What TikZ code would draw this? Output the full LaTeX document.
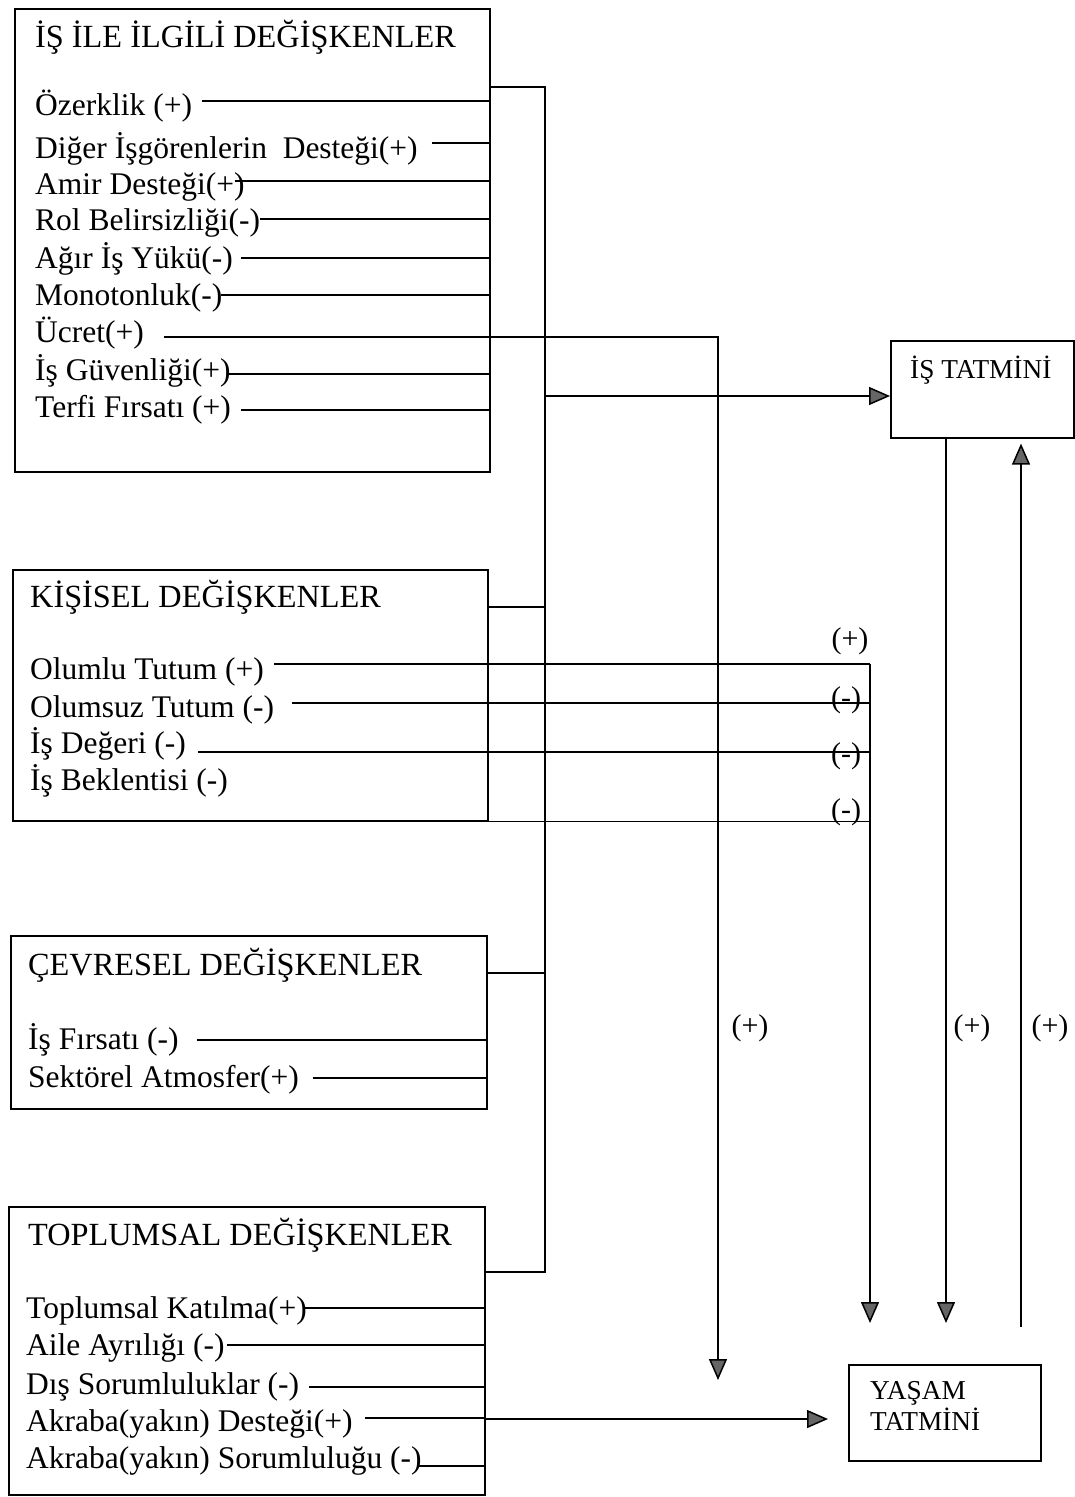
\documentclass[tikz,border=0pt]{standalone}
\usepackage{fontspec}
\setmainfont{Liberation Serif}
\usetikzlibrary{arrows.meta}
\begin{document}
\begin{tikzpicture}[x=1pt,y=-1pt,
  box/.style={draw, line width=1.6pt, anchor=north west, inner sep=0pt},
  txt/.style={anchor=base west, inner sep=0pt, font=\fontsize{31.5}{37}\selectfont},
  htxt/.style={anchor=base west, inner sep=0pt, font=\fontsize{32.3}{38}\selectfont},
  stxt/.style={anchor=base west, inner sep=0pt, font=\fontsize{27.3}{32}\selectfont},
  lbl/.style={inner sep=0pt, font=\fontsize{30}{36}\selectfont},
  con/.style={line width=1.5pt},
  arr/.style={con, -{Triangle[length=21pt,width=18pt,fill=black!60]}},
]
\useasboundingbox (0,0) rectangle (1075,1497);

% boxes
\node[box, minimum width=475pt, minimum height=463pt] (b1) at (14,8) {};
\node[box, minimum width=475pt, minimum height=251pt] (b2) at (12,569) {};
\node[box, minimum width=476pt, minimum height=173pt] (b3) at (10,935) {};
\node[box, minimum width=476pt, minimum height=288pt] (b4) at (8,1206) {};
\node[box, minimum width=183pt, minimum height=97pt] (tat) at (890,340) {};
\node[box, minimum width=192pt, minimum height=96pt] (yas) at (848,1364) {};

% titles
\node[htxt] (h1) at (35,47) {İŞ İLE İLGİLİ DEĞİŞKENLER};
\node[htxt] (h2) at (30,607) {KİŞİSEL DEĞİŞKENLER};
\node[htxt] (h3) at (28,975) {ÇEVRESEL DEĞİŞKENLER};
\node[htxt] (h4) at (28,1245) {TOPLUMSAL DEĞİŞKENLER};
\node[stxt] (ht) at (910,378) {İŞ TATMİNİ};
\node[stxt] (hy1) at (870,1399) {YAŞAM};
\node[stxt] (hy2) at (870,1430) {TATMİNİ};

% box 1 items
\foreach \nm/\tx/\yb/\ly/\g in {
  o1/Özerklik (+)/115/101/10,
  o2/Diğer İşgörenlerin~~Desteği(+)/158/143/14,
  o3/Amir Desteği(+)/194/181/-10,
  o4/Rol Belirsizliği(-)/230/219/0,
  o5/Ağır İş Yükü(-)/268/258/8,
  o6/Monotonluk(-)/305/295/-2,
  o8/İş Güvenliği(+)/380/374/-2,
  o9/Terfi Fırsatı (+)/417/410/10}{
  \node[txt] (\nm) at (35,\yb) {\tx};
  \draw[con] (\nm.east |- 0,\ly) ++(\g,0) -- (b1.east |- 0,\ly);
}
\node[txt] (o7) at (35,342) {Ücret(+)};

% box 2 items
\node[txt] (k1) at (30,679) {Olumlu Tutum (+)};
\node[txt] (k2) at (30,717) {Olumsuz Tutum (-)};
\node[txt] (k3) at (30,753) {İş Değeri (-)};
\node[txt] (k4) at (30,790) {İş Beklentisi (-)};

% box 3 items
\node[txt] (c1) at (28,1049) {İş Fırsatı (-)};
\node[txt] (c2) at (28,1087) {Sektörel Atmosfer(+)};
\draw[con] (c1.east |- 0,1040) ++(18,0) -- (b3.east |- 0,1040);
\draw[con] (c2.east |- 0,1078) ++(14,0) -- (b3.east |- 0,1078);

% box 4 items
\foreach \nm/\tx/\yb/\ly/\g in {
  p1/Toplumsal Katılma(+)/1318/1308/-2,
  p2/Aile Ayrılığı (-)/1355/1345/2,
  p3/Dış Sorumluluklar (-)/1394/1387/10,
  p4/Akraba(yakın) Desteği(+)/1431/1418/12,
  p5/Akraba(yakın) Sorumluluğu (-)/1468/1466/-4}{
  \node[txt] (\nm) at (26,\yb) {\tx};
  \draw[con] (\nm.east |- 0,\ly) ++(\g,0) -- (b4.east |- 0,\ly);
}

% bracket collecting the four groups
\coordinate (bt) at (545,87);
\coordinate (bb) at (545,1272);
\coordinate (bm) at (545,396);
\draw[con] (b1.east |- bt) -- (bt) -- (bb) -- (b4.east |- bb);
\draw[con] (b2.east |- 0,607) -- (bt |- 0,607);
\draw[con] (b3.east |- 0,973) -- (bt |- 0,973);
\draw[arr] (bm) -- (tat.west |- bm);

% Ucret line down to Yasam tatmini
\coordinate (uc) at (718,337);
\coordinate (ue) at (718,1380);
\draw[arr] (o7.east |- uc) ++(20,0) -- (uc) -- (ue);

% personal variables to Yasam tatmini
\coordinate (kv) at (870,664);
\coordinate (ke) at (870,1323);
\draw[con] (k1.east |- kv) ++(10,0) -- (kv);
\draw[con] (k2.east |- 0,703) ++(18,0) -- (kv |- 0,703);
\draw[con] (k3.east |- 0,752) ++(12,0) -- (kv |- 0,752);
\draw[con] (b2.south east) -- (kv |- b2.south east);
\draw[arr] (kv) -- (ke);

% Is tatmini <-> Yasam tatmini
\coordinate (te) at (946,1323);
\draw[arr] (tat.south -| te) -- (te);
\coordinate (ts) at (1021,1327);
\draw[arr, shorten >=5pt] (ts) -- (tat.south -| ts);

% Akraba destegi to Yasam tatmini
\draw[arr, shorten >=20pt] (b4.east |- 0,1419) -- (yas.west |- 0,1419);

% signs
\node[lbl] (l1) at (850,641) {(+)};
\node[lbl] (l2) at (846,700) {(-)};
\node[lbl] (l3) at (846,756) {(-)};
\node[lbl] (l4) at (846,812) {(-)};
\node[lbl] (l5) at (750,1028) {(+)};
\node[lbl] (l6) at (972,1028) {(+)};
\node[lbl] (l7) at (1050,1028) {(+)};
\end{tikzpicture}
\end{document}
